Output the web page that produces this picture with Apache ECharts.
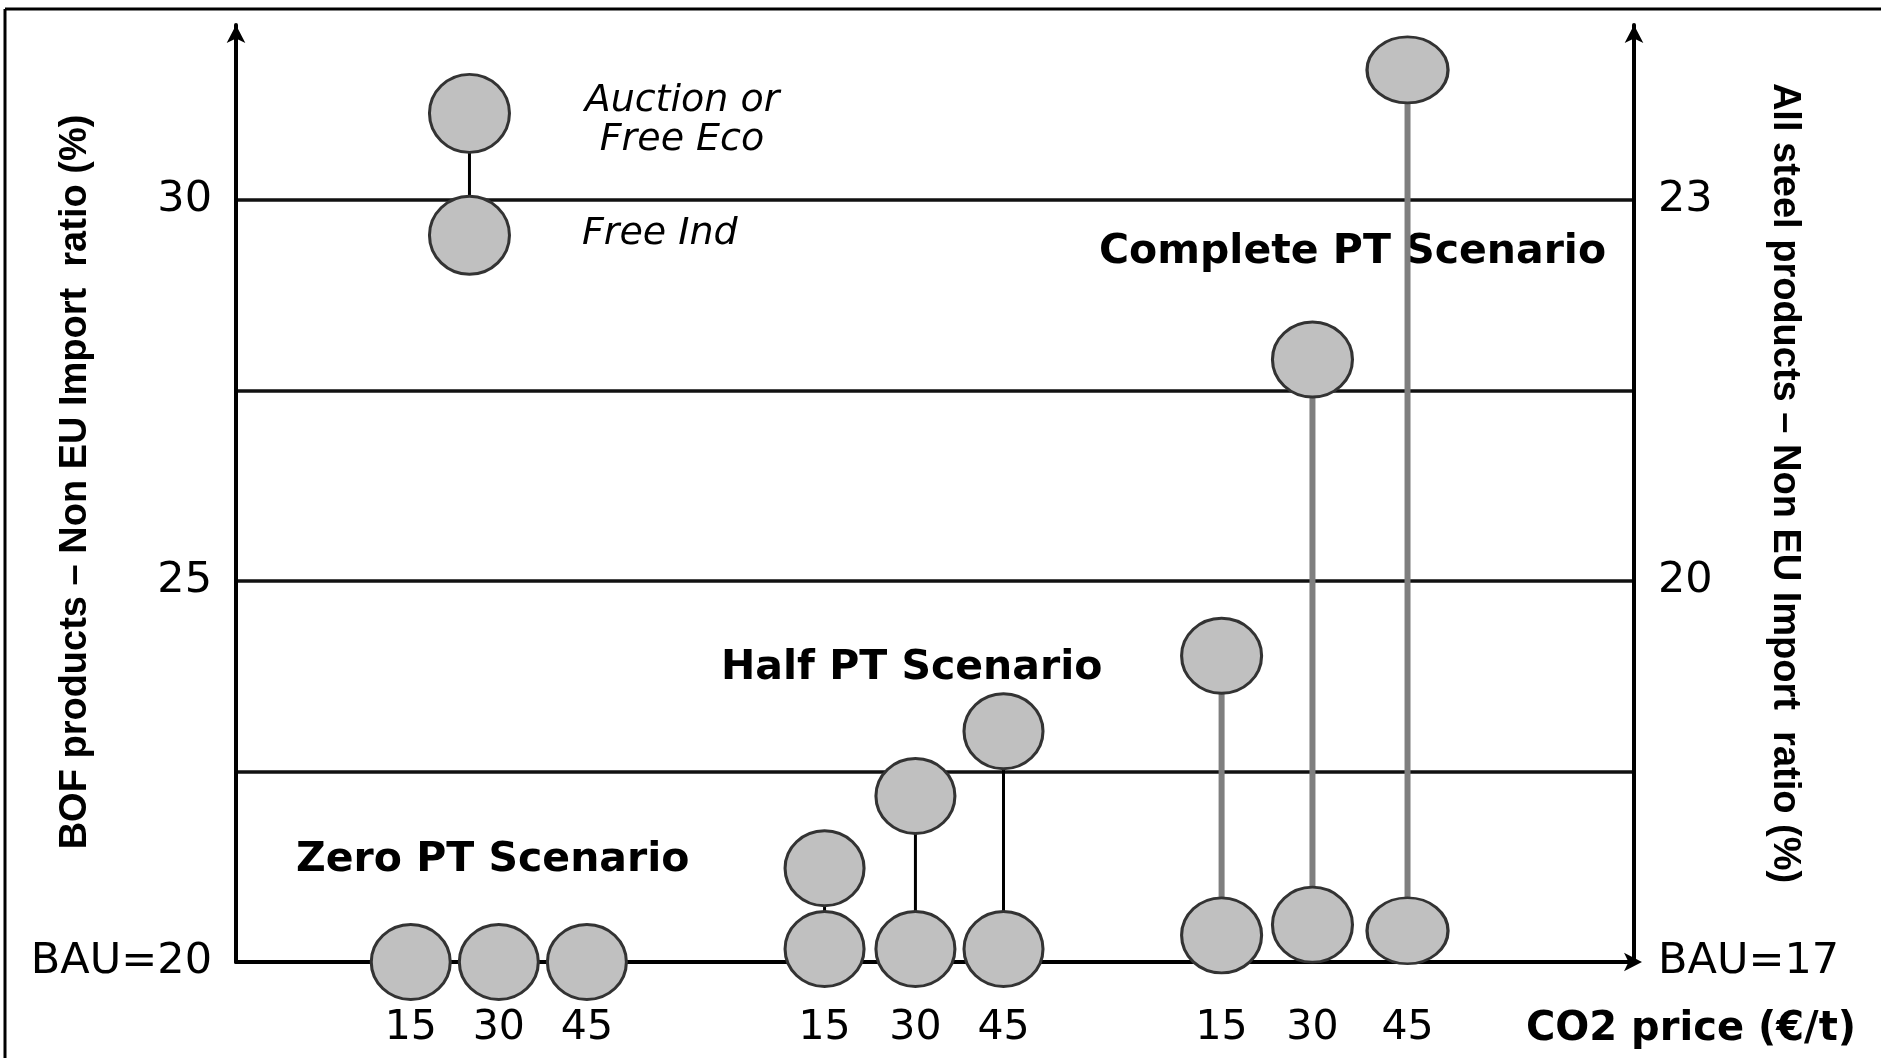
<!DOCTYPE html>
<html>
<head>
<meta charset="utf-8">
<title>Non EU import ratio vs CO2 price</title>
<script src="https://cdn.jsdelivr.net/npm/echarts@6.0.0/dist/echarts.min.js"></script>
<style>
    html, body { margin: 0; padding: 0; background: #fff; }
    #chart { width: 1881px; height: 1058px; }
</style>
</head>
<body>
<div id="chart"></div>
<script>
    // positions of the CO2 price points along the x axis (axis runs 0..100)
    var prices = ['15', '30', '45'];
    var zeroPos = [12.5, 18.8, 25.1];
    var halfPos = [42.1, 48.6, 54.9];
    var completePos = [70.5, 77.0, 83.8];
    var ecoPos = 16.7;

    // BOF products - non EU import ratio (%)
    var zeroPT = [20, 20, 20];
    var halfLow = [20.17, 20.17, 20.17];
    var halfHigh = [21.23, 22.18, 23.03];
    var completeLow = [20.35, 20.49, 20.41];
    var completeHigh = [24.02, 27.91, 31.71];
    var freeInd = 29.54;
    var auctionEco = 31.14;

    // axis labels
    var leftLabels = { 20: 'BAU=20', 25: '25', 30: '30' };
    var rightLabels = { 17: 'BAU=17', 20: '20', 23: '23' };

    var FONT = 'DejaVu Sans';
    var bubble = {
        color: '#c0c0c0',
        borderColor: '#333',
        borderWidth: 3,
        opacity: 1
    };

    function pairs(xs, ys) {
        return xs.map(function (x, i) { return [x, ys[i]]; });
    }
    function stems(xs, lo, hi) {
        return xs.map(function (x, i) { return [x, lo[i], hi[i]]; });
    }
    function stemSeries(data, color, width) {
        return {
            type: 'custom',
            z: 2,
            data: data,
            encode: { x: 0, y: [1, 2] },
            renderItem: function (params, api) {
                var a = api.coord([api.value(0), api.value(1)]);
                var b = api.coord([api.value(0), api.value(2)]);
                return {
                    type: 'line',
                    shape: { x1: a[0], y1: a[1], x2: b[0], y2: b[1] },
                    style: { stroke: color, lineWidth: width }
                };
            }
        };
    }

    var xTickPos = zeroPos.concat(halfPos, completePos);

    var completePoints = pairs(completePos, completeLow).concat(pairs(completePos, completeHigh))
        .map(function (p, i) {
            // the 45 €/t bubbles are drawn a bit flatter in the original
            return (i % 3 === 2) ? { value: p, symbolSize: [81, 66] } : { value: p };
        });

    var option = {
        animation: false,
        grid: { left: 236, right: 247, top: 25, bottom: 96 },
        xAxis: {
            type: 'value',
            min: 0,
            max: 100,
            axisLine: {
                onZero: false,
                lineStyle: { color: '#000', width: 4 },
                symbol: ['none', 'arrow'],
                symbolSize: [14, 18],
                symbolOffset: [0, 8]
            },
            axisTick: { show: false },
            splitLine: { show: false },
            axisLabel: {
                customValues: xTickPos,
                margin: 46,
                color: '#000',
                fontFamily: FONT,
                fontSize: 41,
                formatter: function (v) {
                    for (var i = 0; i < xTickPos.length; i++) {
                        if (Math.abs(xTickPos[i] - v) < 1e-6) return prices[i % 3];
                    }
                    return '';
                }
            }
        },
        yAxis: [{
            type: 'value',
            position: 'left',
            min: 20,
            max: 32.3,
            interval: 2.5,
            axisLine: {
                show: true,
                onZero: false,
                lineStyle: { color: '#000', width: 4 },
                symbol: ['none', 'arrow'],
                symbolSize: [14, 18]
            },
            axisTick: { show: false },
            splitLine: {
                show: true,
                showMaxLine: false,
                lineStyle: { color: '#111', width: 3.5 }
            },
            axisLabel: {
                margin: 24,
                color: '#000',
                fontFamily: FONT,
                fontSize: 43,
                showMaxLabel: false,
                formatter: function (v) { return leftLabels[v] || ''; }
            }
        }, {
            type: 'value',
            position: 'right',
            min: 17,
            max: 24.38,
            interval: 1,
            axisLine: {
                show: true,
                onZero: false,
                lineStyle: { color: '#000', width: 4 },
                symbol: ['none', 'arrow'],
                symbolSize: [14, 18]
            },
            axisTick: { show: false },
            splitLine: { show: false },
            axisLabel: {
                margin: 24,
                color: '#000',
                fontFamily: FONT,
                fontSize: 43,
                showMaxLabel: false,
                formatter: function (v) { return rightLabels[v] || ''; }
            }
        }],
        series: [
            stemSeries(stems([ecoPos], [freeInd], [auctionEco]), '#000', 3),
            stemSeries(stems(halfPos, halfLow, halfHigh), '#000', 3),
            stemSeries(stems(completePos, completeLow, completeHigh), '#7f7f7f', 6),
            {
                name: 'Zero PT',
                type: 'scatter',
                z: 3,
                symbol: 'circle',
                symbolSize: [79, 75],
                itemStyle: bubble,
                data: pairs(zeroPos, zeroPT)
            },
            {
                name: 'Half PT',
                type: 'scatter',
                z: 3,
                symbol: 'circle',
                symbolSize: [79, 75],
                itemStyle: bubble,
                data: pairs(halfPos, halfLow).concat(pairs(halfPos, halfHigh))
            },
            {
                name: 'Complete PT',
                type: 'scatter',
                z: 3,
                symbol: 'circle',
                symbolSize: [80, 75],
                itemStyle: bubble,
                data: completePoints
            },
            {
                name: 'Allocation',
                type: 'scatter',
                z: 3,
                symbol: 'circle',
                symbolSize: [80, 78],
                itemStyle: bubble,
                data: [[ecoPos, auctionEco], [ecoPos, freeInd]]
            }
        ],
        graphic: [
            // frame
            { type: 'line', shape: { x1: 5, y1: 9, x2: 1881, y2: 9 }, style: { stroke: '#000', lineWidth: 3 } },
            { type: 'line', shape: { x1: 5, y1: 9, x2: 5, y2: 1058 }, style: { stroke: '#000', lineWidth: 3 } },
            // axis titles
            {
                type: 'text', x: 76, y: 482, rotation: Math.PI / 2,
                style: {
                    text: 'BOF products – Non EU Import  ratio (%)',
                    fontFamily: 'Liberation Sans', fontWeight: 'bold', fontSize: 38,
                    align: 'center', verticalAlign: 'middle', fill: '#000'
                }
            },
            {
                type: 'text', x: 1784, y: 483, rotation: -Math.PI / 2,
                style: {
                    text: 'All steel products – Non EU Import  ratio (%)',
                    fontFamily: 'Liberation Sans', fontWeight: 'bold', fontSize: 38,
                    align: 'center', verticalAlign: 'middle', fill: '#000'
                }
            },
            {
                type: 'text', x: 1526, y: 1030,
                style: {
                    text: 'CO2 price (€/t)',
                    fontFamily: FONT, fontWeight: 'bold', fontSize: 40,
                    align: 'left', verticalAlign: 'middle', fill: '#000'
                }
            },
            // scenario labels
            {
                type: 'text', x: 296, y: 860,
                style: {
                    text: 'Zero PT Scenario', fontFamily: FONT, fontWeight: 'bold', fontSize: 41,
                    align: 'left', verticalAlign: 'middle', fill: '#000'
                }
            },
            {
                type: 'text', x: 721, y: 668,
                style: {
                    text: 'Half PT Scenario', fontFamily: FONT, fontWeight: 'bold', fontSize: 41,
                    align: 'left', verticalAlign: 'middle', fill: '#000'
                }
            },
            {
                type: 'text', x: 1099, y: 252,
                style: {
                    text: 'Complete PT Scenario', fontFamily: FONT, fontWeight: 'bold', fontSize: 41,
                    align: 'left', verticalAlign: 'middle', fill: '#000'
                }
            },
            // allocation labels
            {
                type: 'text', x: 682, y: 121,
                style: {
                    text: 'Auction or\nFree Eco', fontFamily: FONT, fontStyle: 'italic', fontSize: 38,
                    lineHeight: 39, align: 'center', verticalAlign: 'middle', fill: '#000'
                }
            },
            {
                type: 'text', x: 582, y: 234,
                style: {
                    text: 'Free Ind', fontFamily: FONT, fontStyle: 'italic', fontSize: 38,
                    align: 'left', verticalAlign: 'middle', fill: '#000'
                }
            }
        ]
    };

    var myChart = echarts.init(document.getElementById('chart'));
    myChart.setOption(option);
</script>
</body>
</html>
